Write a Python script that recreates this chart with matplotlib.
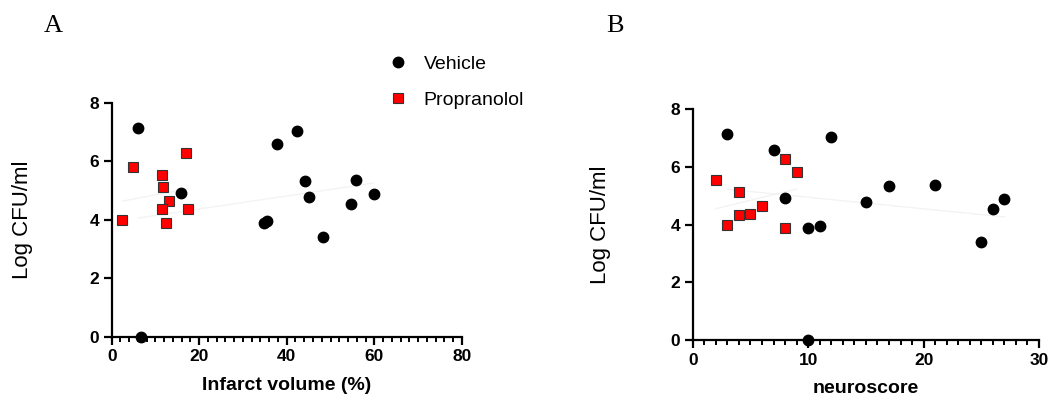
import numpy as np
import matplotlib
matplotlib.use("Agg")
import matplotlib.pyplot as plt
from matplotlib.ticker import MultipleLocator

plt.rcParams['font.family'] = ['Liberation Sans', 'DejaVu Sans']

# ---- data ----
# panel A: infarct volume (%) vs Log CFU/ml
veh_infarct = [6.1, 42.4, 37.7, 44.2, 55.8, 15.8, 45.0, 59.9, 54.6, 34.7, 35.4, 48.3, 6.7]
veh_cfu_a = [7.12, 7.04, 6.58, 5.33, 5.37, 4.92, 4.79, 4.89, 4.52, 3.90, 3.94, 3.42, 0.0]
pro_infarct = [17.0, 4.9, 11.5, 11.8, 13.0, 11.4, 17.4, 2.4, 12.3]
pro_cfu_a = [6.27, 5.81, 5.54, 5.13, 4.65, 4.35, 4.36, 3.99, 3.90]

# panel B: neuroscore vs Log CFU/ml
veh_neuro = [3, 12, 7, 8, 15, 17, 21, 10, 11, 25, 26, 27, 10]
veh_cfu_b = [7.14, 7.05, 6.58, 4.92, 4.80, 5.33, 5.38, 3.90, 3.94, 3.41, 4.53, 4.88, 0.0]
pro_neuro = [2, 3, 4, 4, 5, 6, 8, 8, 9]
pro_cfu_b = [5.55, 3.99, 5.14, 4.34, 4.36, 4.65, 6.27, 3.90, 5.81]


fig = plt.figure(figsize=(10.49, 4.01), dpi=100)
axA = fig.add_axes([0.1065, 0.1603, 0.3337, 0.5836])
axB = fig.add_axes([0.6604, 0.1521, 0.3301, 0.5753])


def style_axis(ax, xmax, xmajor, xminor, xlabel, ylab_x):
    ax.set_xlim(0, xmax)
    ax.set_ylim(0, 8)
    ax.xaxis.set_major_locator(MultipleLocator(xmajor))
    ax.xaxis.set_minor_locator(MultipleLocator(xminor))
    ax.yaxis.set_major_locator(MultipleLocator(2))
    for s in ['top', 'right']:
        ax.spines[s].set_visible(False)
    for s in ['left', 'bottom']:
        ax.spines[s].set_linewidth(1.6)
    ax.tick_params(axis='both', which='major', direction='out', length=6, width=1.6,
                   labelsize=12.5, pad=3)
    ax.tick_params(axis='x', which='minor', direction='out', length=3.5, width=1.4)
    for lab in ax.get_xticklabels() + ax.get_yticklabels():
        lab.set_fontweight('bold')
    ax.set_xlabel(xlabel, fontsize=14, fontweight='bold', labelpad=9)
    ax.set_ylabel('Log CFU/ml', fontsize=16)
    ax.yaxis.set_label_coords(ylab_x, 0.5)


def draw(ax, vx, vy, px, py):
    # faint fit lines (barely visible in the original)
    for xs, ys in [(vx, vy), (px, py)]:
        k, b = np.polyfit(xs, ys, 1)
        xx = np.array([min(xs), max(xs)])
        ax.plot(xx, k * xx + b, color='#f3f3f3', lw=1, zorder=1)
    ax.plot(vx, vy, 'o', color='black', ms=7.5, clip_on=False, zorder=3,
            label='Vehicle')
    ax.plot(px, py, 's', color='red', mec='#333333', mew=0.8, ms=7, zorder=3,
            clip_on=False, label='Propranolol')


draw(axA, veh_infarct, veh_cfu_a, pro_infarct, pro_cfu_a)
style_axis(axA, 80, 20, 2, 'Infarct volume (%)', -0.225)

draw(axB, veh_neuro, veh_cfu_b, pro_neuro, pro_cfu_b)
style_axis(axB, 30, 10, 1, 'neuroscore', -0.235)

# legend
handles, labels = axA.get_legend_handles_labels()
fig.legend(handles, labels, loc='upper left', bbox_to_anchor=(0.352, 0.905),
           frameon=False, fontsize=14, handletextpad=0.7, labelspacing=0.95,
           handlelength=1.2)

# panel letters
fig.text(0.051, 0.935, 'A', fontsize=19, family='Liberation Serif', ha='center', va='center')
fig.text(0.586, 0.935, 'B', fontsize=19, family='Liberation Serif', ha='center', va='center')

fig.savefig('out.png', dpi=100)
